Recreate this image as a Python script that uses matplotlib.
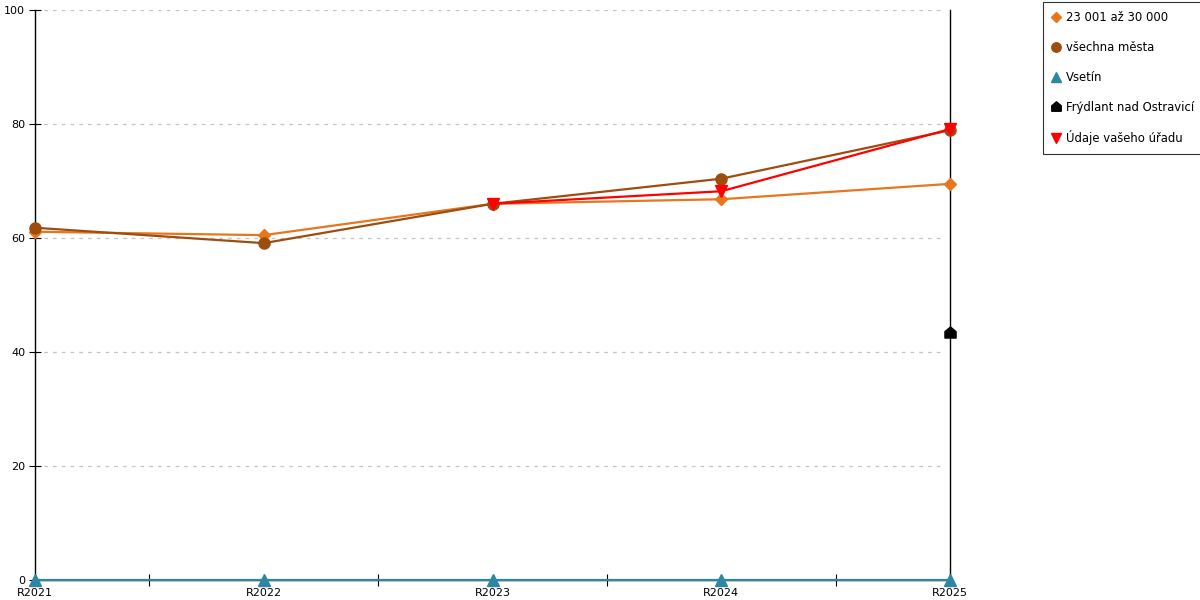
import matplotlib
matplotlib.use("Agg")
import matplotlib.pyplot as plt
from matplotlib.lines import Line2D
from matplotlib.path import Path
import numpy as np

categories = ["R2021", "R2022", "R2023", "R2024", "R2025"]
grp_23001 = [61.1, 60.5, 66.0, 66.8, 69.5]
vsechna_mesta = [61.8, 59.1, 66.0, 70.4, 78.9]
vsetin = [0, 0, 0, 0, 0]
frydlant = [None, None, None, None, 43.5]
vas_urad = [None, None, 66.0, 68.2, 79.1]
y_ticks = [0, 20, 40, 60, 80, 100]

house = Path([(-1, -1), (1, -1), (1, 0.15), (0, 1), (-1, 0.15), (-1, -1)],
             [Path.MOVETO, Path.LINETO, Path.LINETO, Path.LINETO, Path.LINETO, Path.CLOSEPOLY])

c_orange = "#E8761C"
c_brown = "#9E4D10"
c_teal = "#2E86A0"
c_black = "#000000"
c_red = "#FF0000"

fig = plt.figure(figsize=(12, 6), dpi=100)
ax = fig.add_axes([35/1200, 20/600, 915/1200, 570/600])

x = np.arange(len(categories))

def arr(v):
    return np.array([np.nan if a is None else a for a in v], dtype=float)

series = [
    ("23 001 až 30 000", grp_23001, c_orange, "D", 6),
    ("všechna města", vsechna_mesta, c_brown, "o", 8),
    ("Vsetín", vsetin, c_teal, "^", 8),
    ("Frýdlant nad Ostravicí", frydlant, c_black, house, 8),
    ("Údaje vašeho úřadu", vas_urad, c_red, "v", 8),
]
handles = []
for i, (name, vals, col, mk, ms) in enumerate(series):
    ax.plot(x, arr(vals), color=col, lw=1.6, marker=mk, ms=ms, mec=col, mfc=col,
            clip_on=False, zorder=3 + i)
    handles.append(Line2D([], [], linestyle="none", marker=mk, color=col, ms=ms * 0.85, label=name))

ax.set_xlim(0, 4)
ax.set_ylim(0, 100)
ax.set_yticks(y_ticks)
ax.set_yticklabels([str(t) for t in y_ticks])
ax.set_xticks(x)
ax.set_xticklabels(categories)
ax.set_xticks(np.arange(0.5, 4, 1), minor=True)
ax.tick_params(axis="x", which="major", length=0, pad=6, labelsize=8)
ax.tick_params(axis="x", which="minor", length=8, direction="inout", width=0.8)
ax.tick_params(axis="y", which="major", length=8, direction="inout", width=0.8, labelsize=8, pad=3)

for t in y_ticks[1:]:
    ax.plot([0, 3.97], [t, t], color="#C4C4C4", lw=0.9, ls=(0, (3, 4)), zorder=1)

ax.spines["top"].set_visible(False)
for s in ["left", "bottom", "right"]:
    ax.spines[s].set_linewidth(1.0)
    ax.spines[s].set_color("black")

leg = fig.legend(handles=handles, loc="upper left", bbox_to_anchor=(1043/1200, 1 - 2/600),
                 fontsize=8.4, frameon=True, fancybox=False, edgecolor="black",
                 handlelength=0.8, handletextpad=0.4, labelspacing=1.45, borderpad=0.75,
                 borderaxespad=0)
leg.get_frame().set_linewidth(0.8)

fig.savefig("out.png", dpi=100)
